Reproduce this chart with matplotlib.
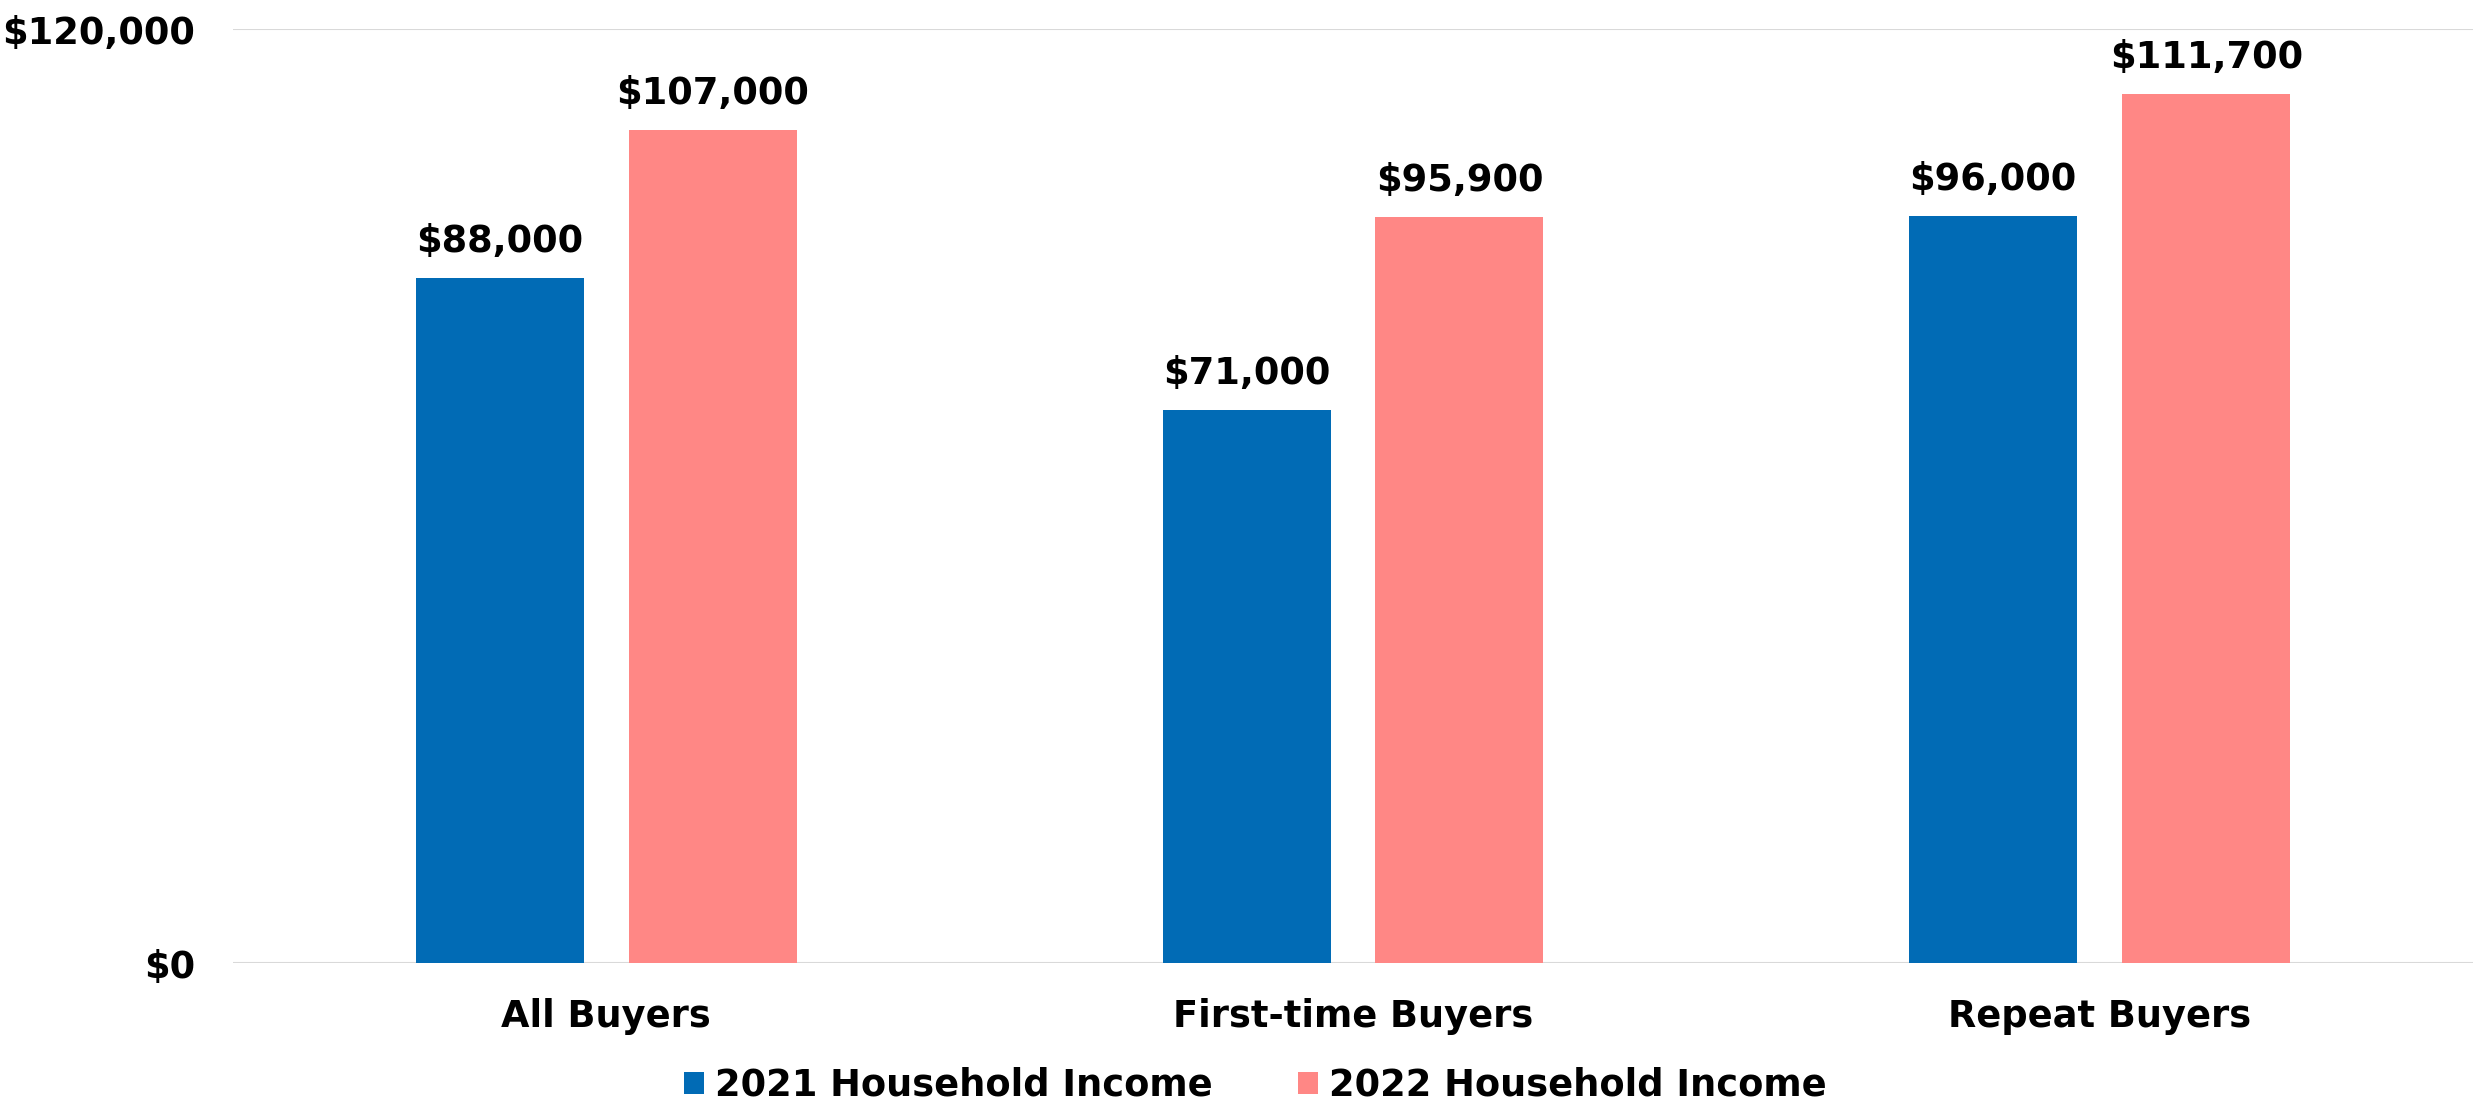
import numpy as np
import matplotlib
matplotlib.use('Agg')
from matplotlib import pyplot as plt
from matplotlib.ticker import FuncFormatter

categories = ['All Buyers', 'First-time Buyers', 'Repeat Buyers']
income_2021 = [88000, 71000, 96000]
income_2022 = [107000, 95900, 111700]
series_labels = ['2021 Household Income', '2022 Household Income']

blue = '#016BB5'
pink = '#FF8785'

plt.rcParams['font.family'] = ['DejaVu Sans']
plt.rcParams['font.weight'] = 'bold'

fig = plt.figure(figsize=(24.81, 11.04), dpi=100)
ax = fig.add_axes([0.0939, 0.1277, 0.9029, 0.846])

x = np.arange(len(categories))
w = 0.225
off = 0.1426
b1 = ax.bar(x - off, income_2021, w, color=blue, label=series_labels[0], zorder=3)
b2 = ax.bar(x + off, income_2022, w, color=pink, label=series_labels[1], zorder=3)

# value labels above the bars
for bars in (b1, b2):
    for rect in bars:
        h = rect.get_height()
        ax.annotate(f'${h:,.0f}', (rect.get_x() + rect.get_width() / 2, h),
                    xytext=(0, 13), textcoords='offset points',
                    ha='center', va='bottom', fontsize=26.5, fontweight='bold')

ax.set_xlim(-0.5, 2.5)
ax.set_ylim(0, 120000)
ax.set_yticks([0, 120000])
ax.yaxis.set_major_formatter(FuncFormatter(lambda v, p: f'${v:,.0f}'))
ax.set_xticks(x)
ax.set_xticklabels(categories)
ax.tick_params(axis='both', length=0, labelsize=26.5)
ax.tick_params(axis='y', pad=27)
ax.tick_params(axis='x', pad=25)
for lab in ax.get_xticklabels() + ax.get_yticklabels():
    lab.set_fontweight('bold')

ax.grid(axis='y', color='#d9d9d9', linewidth=1.5, zorder=0)
for s in ax.spines.values():
    s.set_visible(False)

fig.legend(loc='center', bbox_to_anchor=(0.506, 0.017), ncol=2, frameon=False,
           handlelength=0.55, handleheight=0.55, handletextpad=0.3,
           columnspacing=2.3, prop={'weight': 'bold', 'size': 26.5})

fig.savefig('out.png', dpi=100)
